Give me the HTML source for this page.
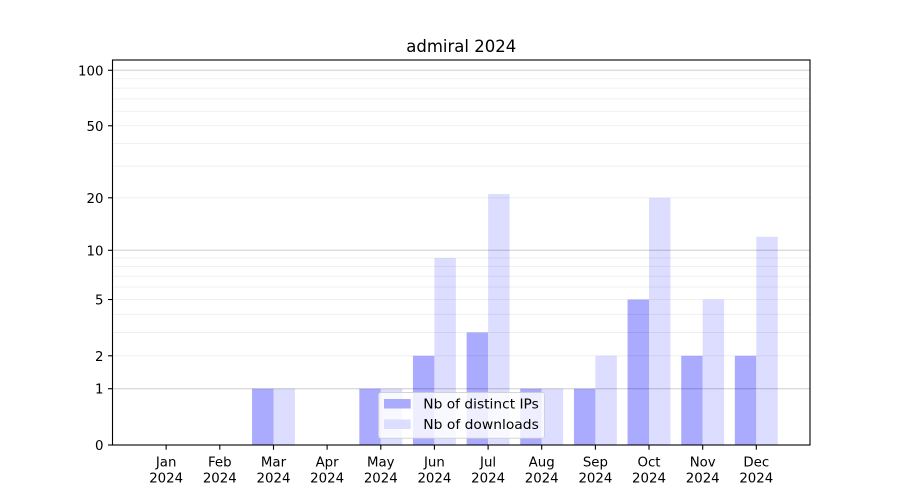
<!DOCTYPE html>
<html><head><meta charset="utf-8"><style>
html,body{margin:0;padding:0;background:#fff;}
svg{display:block;font-family:"DejaVu Sans","Liberation Sans",sans-serif;}
</style></head><body>
<svg width="900" height="500" viewBox="0 0 900 500" xmlns="http://www.w3.org/2000/svg">
<rect width="900" height="500" fill="#fff"/>
<g fill="#aaaaff">
<rect x="252.04" y="388.72" width="21.46" height="56.28"/>
<rect x="359.34" y="388.72" width="21.46" height="56.28"/>
<rect x="412.94" y="355.80" width="21.46" height="89.20"/>
<rect x="466.64" y="332.45" width="21.46" height="112.55"/>
<rect x="520.24" y="388.72" width="21.46" height="56.28"/>
<rect x="573.94" y="388.72" width="21.46" height="56.28"/>
<rect x="627.54" y="299.52" width="21.46" height="145.48"/>
<rect x="681.24" y="355.80" width="21.46" height="89.20"/>
<rect x="734.84" y="355.80" width="21.46" height="89.20"/>
</g>
<g fill="#ddddff">
<rect x="273.5" y="388.72" width="21.46" height="56.28"/>
<rect x="380.8" y="388.72" width="21.46" height="56.28"/>
<rect x="434.4" y="258.05" width="21.46" height="186.95"/>
<rect x="488.1" y="194.03" width="21.46" height="250.97"/>
<rect x="541.7" y="388.72" width="21.46" height="56.28"/>
<rect x="595.4" y="355.80" width="21.46" height="89.20"/>
<rect x="649.0" y="197.81" width="21.46" height="247.19"/>
<rect x="702.7" y="299.52" width="21.46" height="145.48"/>
<rect x="756.3" y="236.75" width="21.46" height="208.25"/>
</g>
<g stroke="#000" stroke-opacity="0.075" stroke-width="0.8">
<line x1="112.5" x2="810" y1="355.80" y2="355.80"/>
<line x1="112.5" x2="810" y1="332.45" y2="332.45"/>
<line x1="112.5" x2="810" y1="314.33" y2="314.33"/>
<line x1="112.5" x2="810" y1="299.52" y2="299.52"/>
<line x1="112.5" x2="810" y1="287.01" y2="287.01"/>
<line x1="112.5" x2="810" y1="276.17" y2="276.17"/>
<line x1="112.5" x2="810" y1="266.60" y2="266.60"/>
<line x1="112.5" x2="810" y1="258.05" y2="258.05"/>
<line x1="112.5" x2="810" y1="197.81" y2="197.81"/>
<line x1="112.5" x2="810" y1="166.19" y2="166.19"/>
<line x1="112.5" x2="810" y1="143.49" y2="143.49"/>
<line x1="112.5" x2="810" y1="125.77" y2="125.77"/>
<line x1="112.5" x2="810" y1="111.23" y2="111.23"/>
<line x1="112.5" x2="810" y1="98.90" y2="98.90"/>
<line x1="112.5" x2="810" y1="88.21" y2="88.21"/>
<line x1="112.5" x2="810" y1="78.76" y2="78.76"/>
</g>
<g stroke="#000" stroke-opacity="0.2" stroke-width="1">
<line x1="112.5" x2="810" y1="388.72" y2="388.72"/>
<line x1="112.5" x2="810" y1="250.31" y2="250.31"/>
<line x1="112.5" x2="810" y1="70.29" y2="70.29"/>
</g>
<rect x="112.5" y="60" width="697.5" height="385" fill="none" stroke="#000" stroke-width="1.1"/>
<g stroke="#000" stroke-width="1.1">
<line x1="108" x2="112.5" y1="445" y2="445"/>
<line x1="108" x2="112.5" y1="388.72" y2="388.72"/>
<line x1="108" x2="112.5" y1="355.80" y2="355.80"/>
<line x1="108" x2="112.5" y1="299.52" y2="299.52"/>
<line x1="108" x2="112.5" y1="250.31" y2="250.31"/>
<line x1="108" x2="112.5" y1="197.81" y2="197.81"/>
<line x1="108" x2="112.5" y1="125.77" y2="125.77"/>
<line x1="108" x2="112.5" y1="70.29" y2="70.29"/>
</g>
<g font-size="13.33" fill="#000" text-anchor="end">
<text x="103.5" y="450">0</text>
<text x="103.5" y="393.7">1</text>
<text x="103.5" y="360.8">2</text>
<text x="103.5" y="304.5">5</text>
<text x="103.5" y="255.3">10</text>
<text x="103.5" y="202.8">20</text>
<text x="103.5" y="130.8">50</text>
<text x="103.5" y="75.3">100</text>
</g>
<g stroke="#000" stroke-width="1.1">
<line x1="166.15" x2="166.15" y1="445" y2="449.7"/>
<line x1="219.8" x2="219.8" y1="445" y2="449.7"/>
<line x1="273.5" x2="273.5" y1="445" y2="449.7"/>
<line x1="327.1" x2="327.1" y1="445" y2="449.7"/>
<line x1="380.8" x2="380.8" y1="445" y2="449.7"/>
<line x1="434.4" x2="434.4" y1="445" y2="449.7"/>
<line x1="488.1" x2="488.1" y1="445" y2="449.7"/>
<line x1="541.7" x2="541.7" y1="445" y2="449.7"/>
<line x1="595.4" x2="595.4" y1="445" y2="449.7"/>
<line x1="649.0" x2="649.0" y1="445" y2="449.7"/>
<line x1="702.7" x2="702.7" y1="445" y2="449.7"/>
<line x1="756.3" x2="756.3" y1="445" y2="449.7"/>
</g>
<g font-size="13.33" fill="#000" text-anchor="middle">
<text x="166.15" y="466.5">Jan</text><text x="166.15" y="482.3">2024</text>
<text x="219.8" y="466.5">Feb</text><text x="219.8" y="482.3">2024</text>
<text x="273.5" y="466.5">Mar</text><text x="273.5" y="482.3">2024</text>
<text x="327.1" y="466.5">Apr</text><text x="327.1" y="482.3">2024</text>
<text x="380.8" y="466.5">May</text><text x="380.8" y="482.3">2024</text>
<text x="434.4" y="466.5">Jun</text><text x="434.4" y="482.3">2024</text>
<text x="488.1" y="466.5">Jul</text><text x="488.1" y="482.3">2024</text>
<text x="541.7" y="466.5">Aug</text><text x="541.7" y="482.3">2024</text>
<text x="595.4" y="466.5">Sep</text><text x="595.4" y="482.3">2024</text>
<text x="649.0" y="466.5">Oct</text><text x="649.0" y="482.3">2024</text>
<text x="702.7" y="466.5">Nov</text><text x="702.7" y="482.3">2024</text>
<text x="756.3" y="466.5">Dec</text><text x="756.3" y="482.3">2024</text>
</g>
<rect x="378.5" y="392.5" width="166" height="45.8" rx="2.5" ry="2.5" fill="#fff" fill-opacity="0.8" stroke="#cccccc" stroke-opacity="0.8" stroke-width="1"/>
<rect x="384" y="399" width="26.7" height="9.5" fill="#aaaaff"/>
<rect x="384" y="419.5" width="26.7" height="9.5" fill="#ddddff"/>
<g font-size="13.6" fill="#000">
<text x="423.3" y="408.7" textLength="115.5" lengthAdjust="spacingAndGlyphs">Nb of distinct IPs</text>
<text x="423.3" y="429.2" textLength="115.5" lengthAdjust="spacingAndGlyphs">Nb of downloads</text>
</g>
<text x="461.25" y="52" font-size="16.4" text-anchor="middle" fill="#000" textLength="110" lengthAdjust="spacingAndGlyphs">admiral 2024</text>
</svg>
</body></html>
